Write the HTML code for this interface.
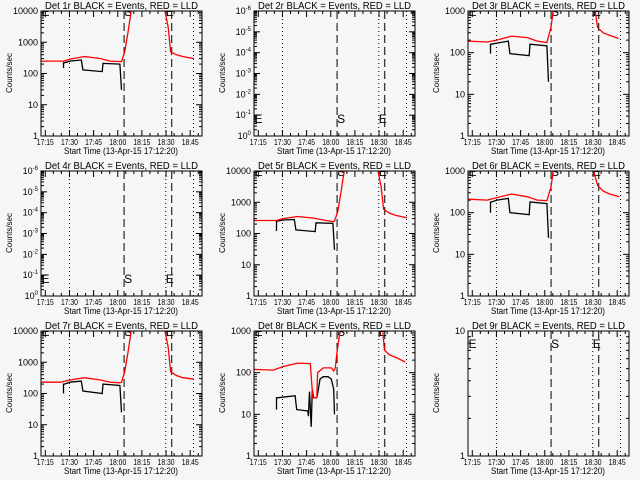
<!DOCTYPE html>
<html><head><meta charset="utf-8"><style>
html,body{margin:0;padding:0;background:#f6f6f6;}
svg{display:block;font-family:"Liberation Sans",sans-serif;}
</style></head><body>
<svg id="chart" width="640" height="480" viewBox="0 0 640 480" xmlns="http://www.w3.org/2000/svg">
<rect x="0" y="0" width="640" height="480" fill="#f6f6f6"/>
</svg>
<script>
// time in minutes after 17:12:20
const tickLabels = ["17:15","17:30","17:45","18:00","18:15","18:30","18:45"];
const tickTimes = [2.67,17.67,32.67,47.67,62.67,77.67,92.67];
const dottedTimes = [17.67,77.5,94.7];
const dashedTimes = [51.6,81.2];
const letterTimes = [0.3,51.6,77.5];
const letterChars = ["E","S","E"];
const detNames = ["1r","2r","3r","4r","5r","6r","7r","8r","9r"];
const yMinExp = [0,-6,0,-6,0,0,0,0,0];
const yMaxExp = [4,0,3,0,4,3,4,3,1];

const p1RedT = [0,14,18,27,37,43,50,52,54,56,57,null,76.5,77,79,80.5,84,88,95];
const p1RedV = [250,250,290,350,300,250,240,500,2000,10000,30000,null,30000,10000,3000,500,400,350,300];
const p1BlkT = [14,14,14.5,18,25,25,26,38,38,38.5,49,49,50];
const p1BlkV = [150,220,220,250,270,270,130,115,115,210,200,200,30];

const p3RedT = [0,12,18,27,37,43,49,51.5,53,54,null,78,79,80.5,84,88,93.5];
const p3RedV = [190,180,200,250,230,190,175,400,1000,3000,null,3000,1000,400,300,260,220];
const p3BlkT = [14,14,14.5,18,25,25,26,38,38,38.5,49,49,50];
const p3BlkV = [95,160,160,170,190,190,95,85,85,160,145,145,20];

const p5RedT = [0,14,18,27,37,43,49,50,52,54,56,57,null,76.5,77,79,80.5,84,88,95];
const p5RedV = [260,260,300,350,310,270,240,250,500,2000,10000,30000,null,30000,10000,3000,600,450,380,320];
const p5BlkT = [14,14,14.5,18,25,25,26,38,38,38.5,49,49,50];
const p5BlkV = [120,250,250,270,280,280,130,115,115,220,210,210,30];

const p6RedT = [0,12,18,27,37,43,49,51.5,53,54,null,77.5,78,80.5,84,88,94];
const p6RedV = [210,200,230,280,240,200,195,400,1000,3000,null,3000,1000,450,330,280,240];
const p6BlkT = [14,14,14.5,18,25,25,26,38,38,38.5,49,49,50];
const p6BlkV = [100,180,180,200,220,220,100,90,90,180,165,165,25];

const p7RedT = [0,12,18,27,37,43,49,50,52,54,56,57,null,76,77,79,80.5,84,88,95];
const p7RedV = [230,230,270,320,270,230,220,230,500,2000,10000,30000,null,30000,10000,3000,500,380,320,290];
const p7BlkT = [14,14,14.5,18,25,25,26,38,38,38.5,49,49,50];
const p7BlkV = [100,200,200,230,250,250,120,100,100,200,180,180,25];

const p8RedT = [0,12,18,27,35,36.5,39,39.5,43,48,49.5,50.5,51.5,53.5,54.5,null,79.5,80,81,84,88.4,94];
const p8RedV = [120,115,140,170,165,25,25,100,130,130,110,130,300,1000,3000,null,3000,1000,350,270,230,180];
const p8BlkT = [14,14,14.5,25.5,25.5,26.5,33.5,33.8,34.5,35.5,36.2,37,39,40,41,43,46,48,49.5,50];
const p8BlkV = [13,25,25,28,28,13,12,9,35,5,40,25,25,40,70,80,80,70,40,10];

const redT = [p1RedT,[],p3RedT,[],p5RedT,p6RedT,p7RedT,p8RedT,[]];
const redV = [p1RedV,[],p3RedV,[],p5RedV,p6RedV,p7RedV,p8RedV,[]];
const blkT = [p1BlkT,[],p3BlkT,[],p5BlkT,p6BlkT,p7BlkT,p8BlkT,[]];
const blkV = [p1BlkV,[],p3BlkV,[],p5BlkV,p6BlkV,p7BlkV,p8BlkV,[]];
const letterBase = [16,123,16,123,16,16,16,16,28];

const NS = "http://www.w3.org/2000/svg";
const svg = document.getElementById("chart");
const colX = [0,213,427], rowY = [0,160,320];
const PL = 41, PR = 202, PT = 11, PB = 136;
function mk(tag, attrs, parent){
  const e = document.createElementNS(NS, tag);
  for (const k in attrs) e.setAttribute(k, attrs[k]);
  parent.appendChild(e);
  return e;
}
function xs(t){ return PL + t * (PR - PL) / 100; }

for (let i = 0; i < 9; i++) {
  const ox = colX[i % 3], oy = rowY[Math.floor(i / 3)];
  const lo = yMinExp[i], hi = yMaxExp[i];
  const ys = v => PB - (Math.log10(v) - lo) / (hi - lo) * (PB - PT);
  const g = mk("g", {transform: `translate(${ox},${oy})`}, svg);
  
  
  const cp = mk("clipPath", {id: "cp" + i}, g);
  mk("rect", {x: PL, y: PT, width: PR - PL, height: PB - PT}, cp);

  const title = mk("text", {x: 121.5, y: 9, "font-size": 10, "text-anchor": "middle", textLength: 153, lengthAdjust: "spacingAndGlyphs"}, g);
  title.textContent = "Det " + detNames[i] + " BLACK = Events, RED = LLD";
  
  

  const yt = mk("text", {x: 0, y: 0, "font-size": 8, "text-anchor": "middle", transform: "translate(12,73) rotate(-90)"}, g);
  yt.textContent = "Counts/sec";
  
  

  const xt = mk("text", {x: 121, y: 154, "font-size": 9, "text-anchor": "middle", textLength: 114, lengthAdjust: "spacingAndGlyphs"}, g);
  xt.textContent = "Start Time (13-Apr-15 17:12:20)";
  
  

  for (let k = 0; k < tickTimes.length; k++) {
    const x = xs(tickTimes[k]);
    mk("line", {x1: x, x2: x, y1: PB, y2: PB - 6, stroke: "#000", "stroke-width": 1}, g);
    mk("line", {x1: x, x2: x, y1: PT, y2: PT + 6, stroke: "#000", "stroke-width": 1}, g);
    const tl = mk("text", {x: x, y: 145, "font-size": 8.5, "text-anchor": "middle", textLength: 17, lengthAdjust: "spacingAndGlyphs"}, g);
    tl.textContent = tickLabels[k];
    
    
  }
  for (let t = 7.67; t < 100; t += 5) {
    if (Math.abs(((t - 2.67) % 15)) < 0.01) continue;
    const x = xs(t);
    mk("line", {x1: x, x2: x, y1: PB, y2: PB - 3, stroke: "#000", "stroke-width": 1}, g);
    mk("line", {x1: x, x2: x, y1: PT, y2: PT + 3, stroke: "#000", "stroke-width": 1}, g);
  }
  for (let e = lo; e <= hi; e++) {
    const y = ys(Math.pow(10, e));
    mk("line", {x1: PL, x2: PL + 6, y1: y, y2: y, stroke: "#000", "stroke-width": 1}, g);
    mk("line", {x1: PR, x2: PR - 6, y1: y, y2: y, stroke: "#000", "stroke-width": 1}, g);
    const lab = mk("text", {x: 38, y: y + 3, "font-size": 9, "text-anchor": "end"}, g);
    if (lo < 0) {
      lab.textContent = "10";
      const sup = mk("tspan", {dy: -4, "font-size": 6}, lab);
      // labels read top=-6 ... bottom=0 as in the reference
      sup.textContent = e === lo ? "0" : String(-(e - lo));
    } else {
      lab.textContent = String(Math.round(Math.pow(10, e)));
    }
    
    
    if (e < hi) for (let m = 2; m <= 9; m++) {
      const ym = ys(m * Math.pow(10, e));
      mk("line", {x1: PL, x2: PL + 3, y1: ym, y2: ym, stroke: "#000", "stroke-width": 1}, g);
      mk("line", {x1: PR, x2: PR - 3, y1: ym, y2: ym, stroke: "#000", "stroke-width": 1}, g);
    }
  }
  dottedTimes.forEach(t => {
    const l = mk("line", {x1: xs(t), x2: xs(t), y1: PT, y2: PB, stroke: "#000", "stroke-width": 1, "stroke-dasharray": "1 3"}, g);
    
    
  });
  dashedTimes.forEach(t => {
    const l = mk("line", {x1: xs(t), x2: xs(t), y1: PT, y2: PB, stroke: "#000", "stroke-width": 1, "stroke-dasharray": "8 4"}, g);
    
    
  });
  const cg = mk("g", {"clip-path": `url(#cp${i})`}, g);
  for (let k = 0; k < 3; k++) {
    const lt = mk("text", {x: xs(letterTimes[k]), y: letterBase[i], "font-size": 12}, cg);
    lt.textContent = letterChars[k];
    
    
  }
  function series(T, V, color, name) {
    let d = "", move = true;
    for (let k = 0; k < T.length; k++) {
      if (T[k] === null) { move = true; continue; }
      d += (move ? "M" : "L") + xs(T[k]).toFixed(1) + "," + ys(V[k]).toFixed(1);
      move = false;
    }
    if (!d) return;
    const p = mk("path", {d: d, fill: "none", stroke: color, "stroke-width": 1.3}, cg);
    
    
  }
  series(blkT[i], blkV[i], "#000", "events-series");
  series(redT[i], redV[i], "#ff0000", "lld-series");
  const box = mk("rect", {x: PL, y: PT, width: PR - PL, height: PB - PT, fill: "none", stroke: "#000", "stroke-width": 1}, g);
  
  
}
</script>
</body></html>
